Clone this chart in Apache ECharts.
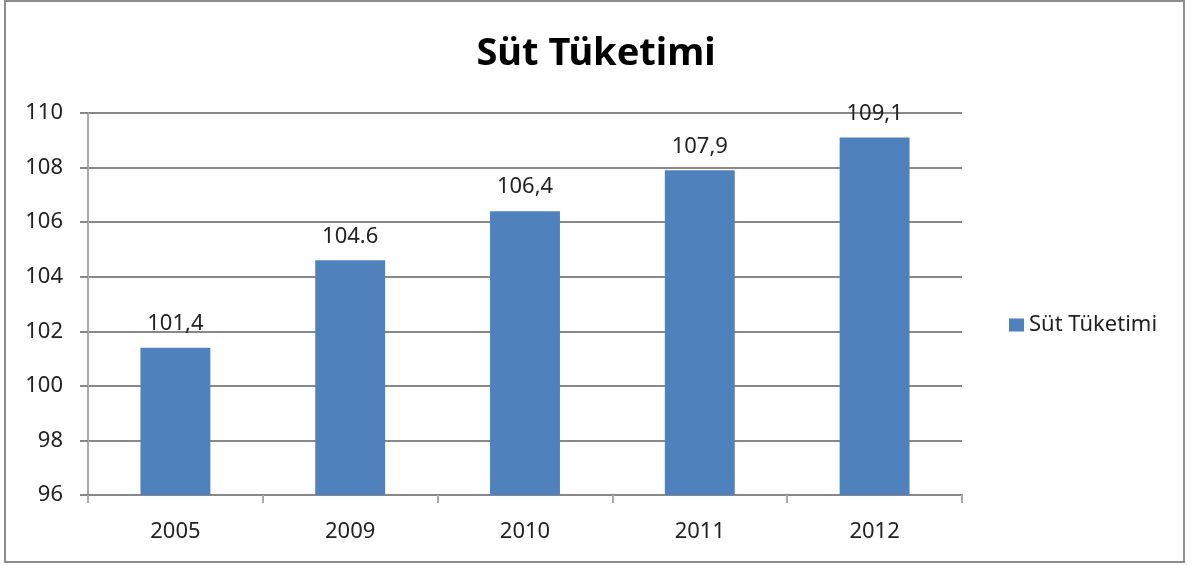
<!DOCTYPE html>
<html>
<head>
<meta charset="utf-8">
<script src="https://cdn.jsdelivr.net/npm/echarts@6/dist/echarts.min.js"></script>
<style>html,body{margin:0;padding:0;background:#fff}#c{width:1192px;height:565px}</style>
</head>
<body>
<div id="c"></div>
<script>
const categories = ['2005', '2009', '2010', '2011', '2012'];
const values = [101.4, 104.6, 106.4, 107.9, 109.1];
const valueLabels = ['101,4', '104.6', '106,4', '107,9', '109,1'];
const seriesName = 'Süt Tüketimi';
const titleText = 'Süt Tüketimi';

const font = '"Noto Sans", "Open Sans", sans-serif';
const chart = echarts.init(document.getElementById('c'));
chart.setOption({
  animation: false,
  backgroundColor: '#fff',
  graphic: [{
    type: 'rect', shape: {x: 5, y: 1, width: 1179, height: 561},
    style: {fill: 'none', stroke: '#8c8c8c', lineWidth: 2}, z: -1
  }],
  title: {
    text: titleText, left: 'center', top: 30,
    textStyle: {fontFamily: font, fontSize: 38, fontWeight: 'bold', color: '#000'}
  },
  legend: {
    data: [seriesName], orient: 'vertical', left: 1004, top: 309,
    itemWidth: 15, itemHeight: 13, itemGap: 6, icon: 'rect',
    textStyle: {fontFamily: font, fontSize: 22, color: '#222'}
  },
  grid: {left: 88, right: 230, top: 113, bottom: 70, containLabel: false},
  xAxis: {
    type: 'category', data: categories,
    axisLine: {lineStyle: {color: '#888', width: 2}},
    axisTick: {show: true, length: 8, interval: 0, alignWithLabel: false, lineStyle: {color: '#aaa', width: 2}},
    axisLabel: {fontFamily: font, fontSize: 22, color: '#222', margin: 26}
  },
  yAxis: {
    type: 'value', min: 96, max: 110, interval: 2,
    axisLine: {show: true, lineStyle: {color: '#aaa', width: 2}},
    axisTick: {show: true, length: 8, lineStyle: {color: '#888', width: 2}},
    axisLabel: {fontFamily: font, fontSize: 22, color: '#222', margin: 25},
    splitLine: {lineStyle: {color: '#888', width: 2}}
  },
  series: [{
    name: seriesName, type: 'bar', data: values, barWidth: '40%',
    itemStyle: {color: '#4F81BD'},
    label: {
      show: true, position: 'top', distance: 13,
      fontFamily: font, fontSize: 22, color: '#222',
      formatter: p => valueLabels[p.dataIndex]
    }
  }]
});
</script>
</body>
</html>
